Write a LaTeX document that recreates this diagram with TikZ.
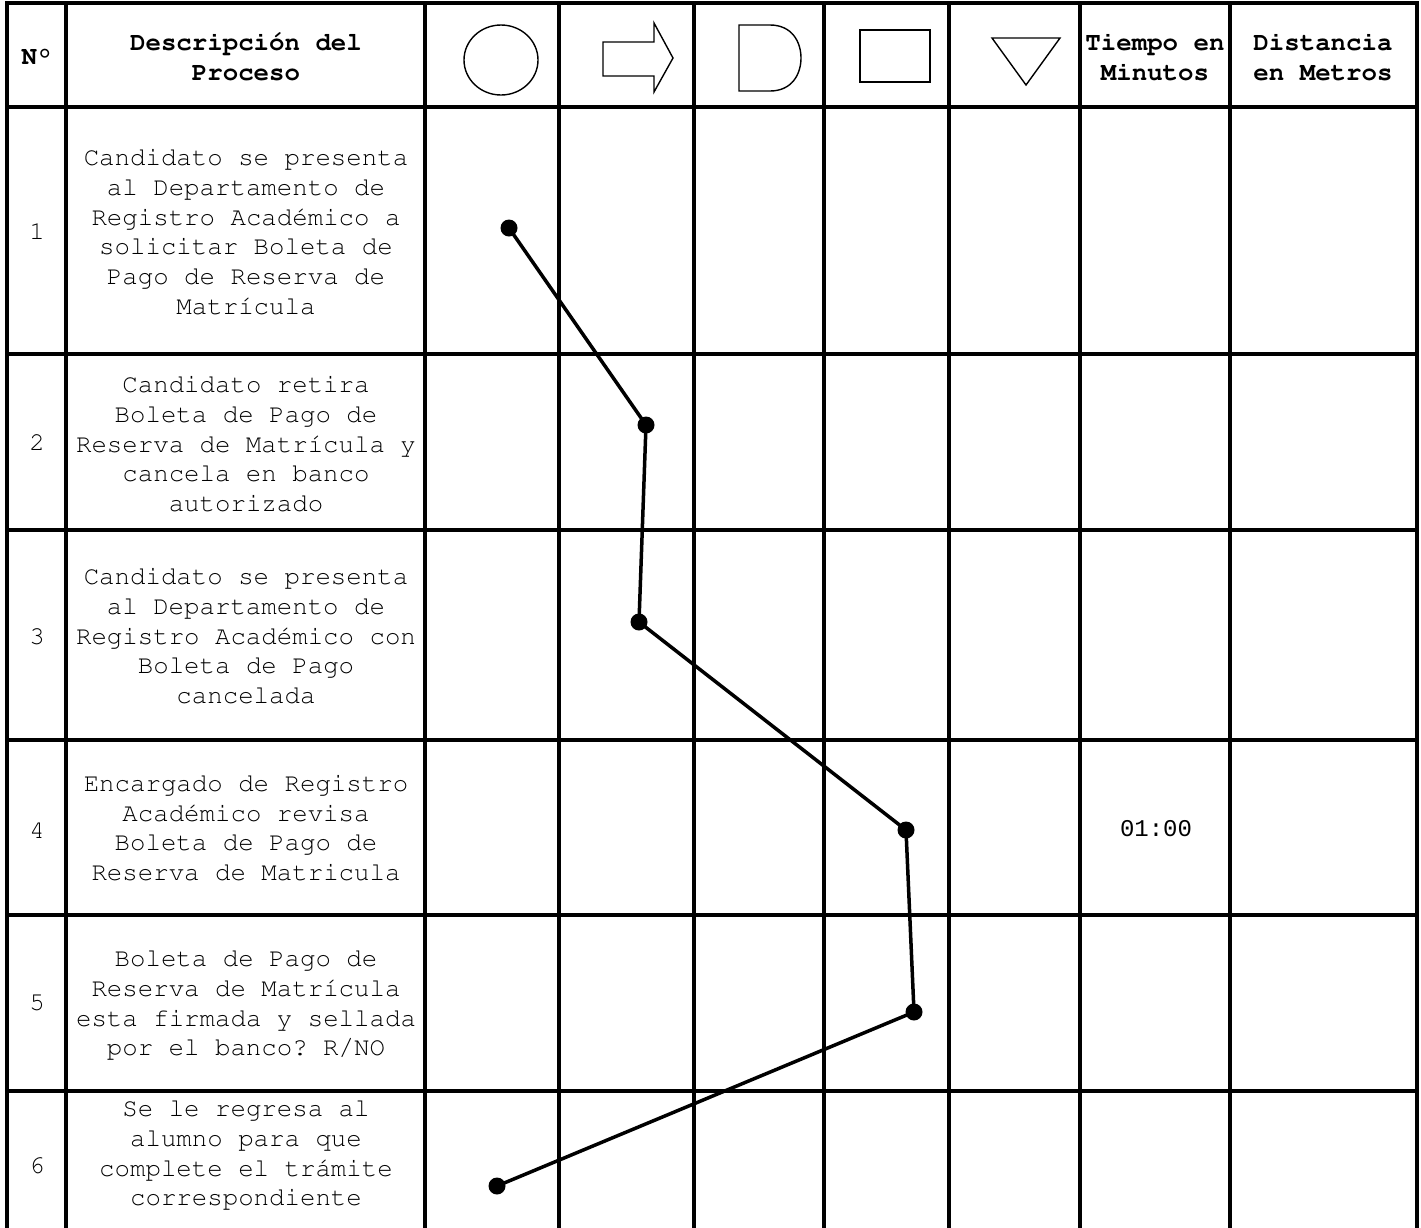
\documentclass[tikz,border=0pt]{standalone}
\usepackage[T1]{fontenc}
\usepackage{fontspec}
\newfontfamily\lmono{Liberation Mono}
\newcommand\cour{\fontencoding{T1}\fontfamily{pcr}\selectfont\frenchspacing}
\tikzset{
  gridline/.style={line width=3.5pt, line cap=rect},
  txt/.style={font={\cour\fontsize{25.75}{29.8}\selectfont}, align=center, inner sep=0pt},
  hdr/.style={font={\cour\bfseries\fontsize{25.75}{29.8}\selectfont}, align=center, inner sep=0pt},
  symb/.style={line width=1.4pt, line join=miter},
  dotnode/.style={circle, fill=black, inner sep=0pt, minimum size=17pt},
  link/.style={line width=3.5pt},
}
\begin{document}
\begin{tikzpicture}[x=1pt,y=-1pt]
\useasboundingbox (0,0) rectangle (1421,1227);
% grid
\foreach \xx in {7,66,425,559,694,824,949,1080,1230,1417}
  \draw[gridline] (\xx,3) -- (\xx,1235);
\foreach \yy in {3,107,354,530,740,915,1091}
  \draw[gridline] (7,\yy) -- (1417,\yy);
% header
\node[hdr] (hno) at (37,57) {N\textdegree};
\node[hdr] (hdesc) at (246,57) {Descripción del\\Proceso};
\node[hdr] (htime) at (1155,57) {Tiempo en\\Minutos};
\node[hdr] (hdist) at (1323,57) {Distancia\\en Metros};
% symbols
\draw[symb] (501,60) ellipse [x radius=37, y radius=35];
\draw[symb] (603,42) -- (654,42) -- (654,23) -- (673,58) -- (654,92) -- (654,76) -- (603,76) -- cycle;
\draw[symb] (739,25) -- (770,25) .. controls (792,25) and (801,42) .. (801,58) .. controls (801,74) and (792,91) .. (770,91) -- (739,91) -- cycle;
\draw[symb] (860,30) rectangle (930,82);
\draw[symb] (992,38) -- (1060,38) -- (1026,85) -- cycle;
% numbers
\node[txt] (n1) at (37,231) {1};
\node[txt] (n2) at (37,442) {2};
\node[txt] (n3) at (37,636) {3};
\node[txt] (n4) at (37,830) {4};
\node[txt] (n5) at (37,1003) {5};
\node[txt] (n6) at (37,1165) {6};
% descriptions
\node[txt] (d1) at (246,232) {Candidato se presenta\\al Departamento de\\Registro Académico a\\solicitar Boleta de\\Pago de Reserva de\\Matrícula};
\node[txt] (d2) at (246,444) {Candidato retira\\Boleta de Pago de\\Reserva de Matrícula y\\cancela en banco\\autorizado};
\node[txt] (d3) at (246,636) {Candidato se presenta\\al Departamento de\\Registro Académico con\\Boleta de Pago\\cancelada};
\node[txt] (d4) at (246,828) {Encargado de Registro\\Académico revisa\\Boleta de Pago de\\Reserva de Matricula};
\node[txt] (d5) at (246,1005) {Boleta de Pago de\\Reserva de Matrícula\\esta firmada y sellada\\por el banco? R/NO};
\node[txt] (d6) at (246,1155) {Se le regresa al\\alumno para que\\complete el trámite\\correspondiente};
% time
\node[font={\lmono\fontsize{24}{28}\selectfont}, inner sep=0pt] (t4) at (1156,829) {01:00};
% path
\node[dotnode] (p1) at (509,228) {};
\node[dotnode] (p2) at (646,425) {};
\node[dotnode] (p3) at (639,622) {};
\node[dotnode] (p4) at (906,830) {};
\node[dotnode] (p5) at (914,1012) {};
\node[dotnode] (p6) at (497,1186) {};
\draw[link] (p1.center) -- (p2.center) -- (p3.center) -- (p4.center) -- (p5.center) -- (p6.center);
\end{tikzpicture}
\end{document}
